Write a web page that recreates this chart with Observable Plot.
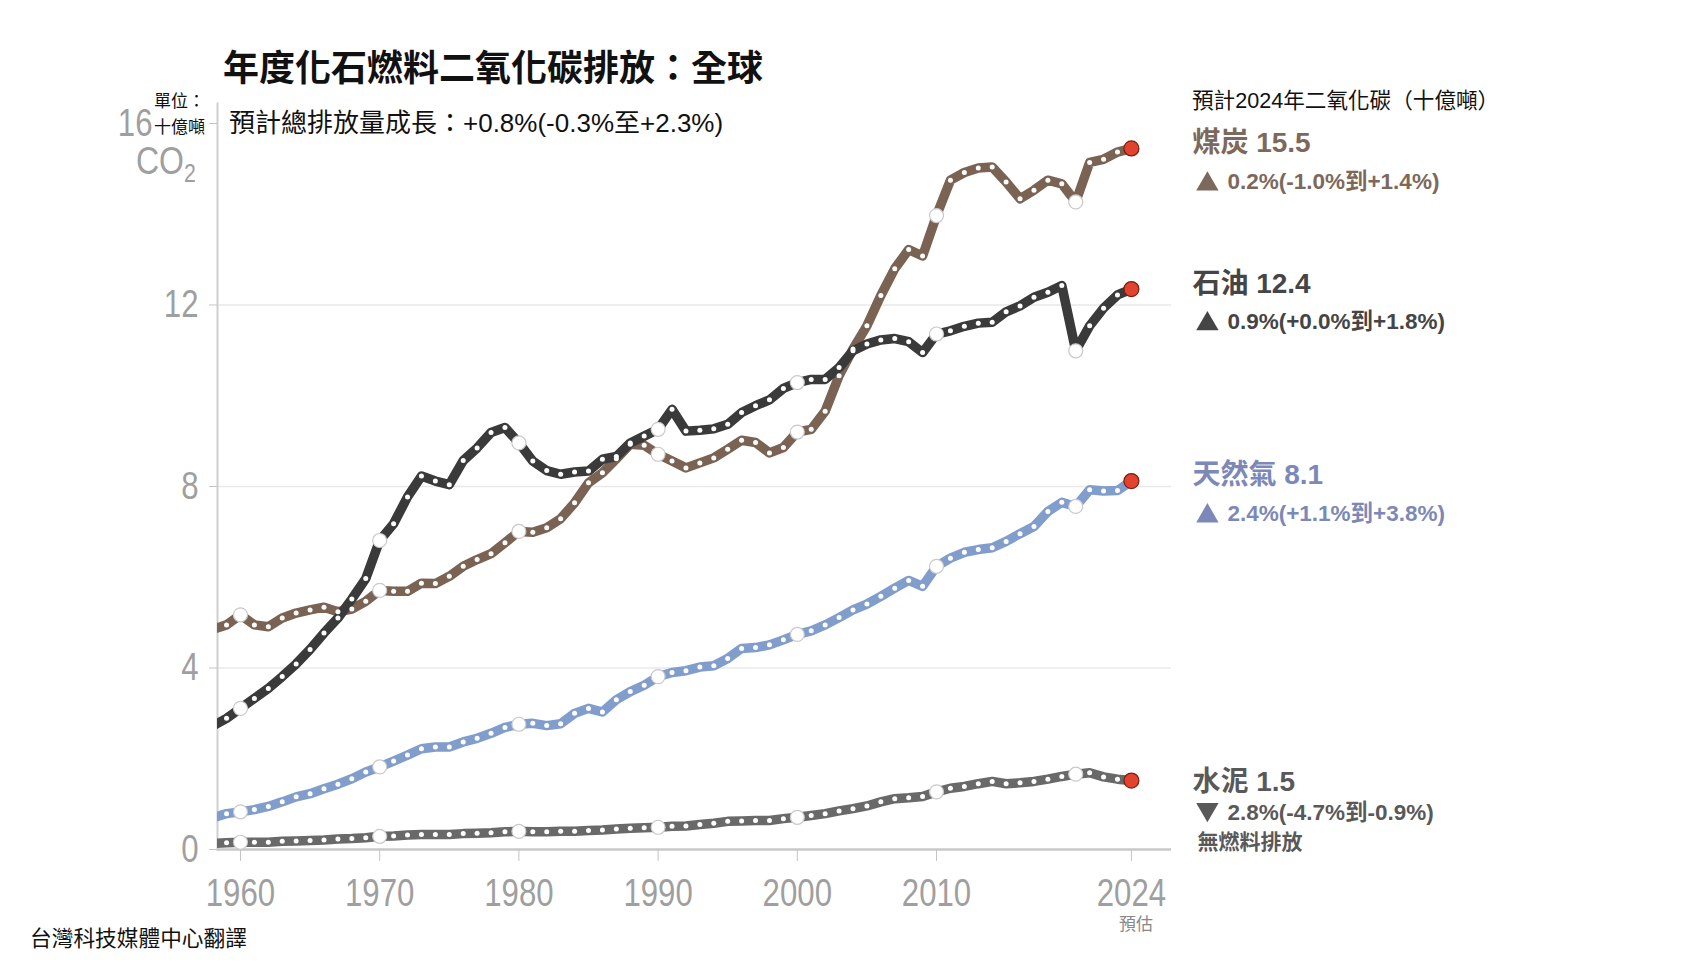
<!DOCTYPE html>
<html><head><meta charset="utf-8">
<script src="https://cdn.jsdelivr.net/npm/d3@7"></script>
<script src="https://cdn.jsdelivr.net/npm/@observablehq/plot@0.6"></script>
<style>
body{margin:0;background:#fff;}
#wrap{position:relative;width:1704px;height:962px;overflow:hidden;font-family:"Liberation Sans","Noto Sans CJK TC",sans-serif;color:#111;}
#wrap svg{position:absolute;left:0;top:0;}
.t{position:absolute;white-space:nowrap;line-height:1;transform:translateY(-50%);}
</style></head><body>
<div id="wrap">
  <div id="chart"></div>
  <div class="t" style="left:223px;top:69px;font-size:36px;font-weight:bold;">年度化石燃料二氧化碳排放：全球</div>
  <div class="t" style="left:229px;top:123px;font-size:26px;">預計總排放量成長：+0.8%(-0.3%至+2.3%)</div>
  <div class="t" style="left:154px;top:101px;font-size:17px;">單位：</div>
  <div class="t" style="left:154px;top:127px;font-size:17px;">十億噸</div>
  <div class="t" style="left:136px;top:163px;font-size:39px;color:#9f9f9f;transform:translateY(-50%) scaleX(0.82);transform-origin:left center;">CO<span style="font-size:26px;vertical-align:-8px;">2</span></div>
  <div class="t" style="left:1192px;top:101px;font-size:21.6px;">預計2024年二氧化碳（十億噸）</div>
  <div class="t" style="left:1119px;top:924px;font-size:17px;color:#888;">預估</div>
  <div class="t" style="left:30px;top:939px;font-size:21.7px;">台灣科技媒體中心翻譯</div>
</div>
<script>
const years = d3.range(1958, 2025);
const seriesNames = ["煤炭", "石油", "天然氣", "水泥"];
const coal = [4.85,4.95,5.17,4.95,4.91,5.10,5.21,5.28,5.34,5.24,5.30,5.47,5.71,5.69,5.69,5.87,5.86,6.02,6.24,6.39,6.52,6.76,7.01,6.99,7.09,7.29,7.64,8.08,8.30,8.61,8.93,8.91,8.71,8.56,8.41,8.52,8.63,8.82,9.02,8.97,8.74,8.86,9.20,9.26,9.66,10.44,11.03,11.54,12.21,12.80,13.22,13.08,13.97,14.75,14.92,15.02,15.04,14.71,14.34,14.53,14.75,14.67,14.27,15.14,15.21,15.37,15.45];
const oil = [2.72,2.89,3.11,3.33,3.55,3.81,4.09,4.41,4.77,5.10,5.52,5.97,6.81,7.18,7.77,8.23,8.12,8.04,8.57,8.85,9.19,9.30,8.96,8.56,8.35,8.27,8.32,8.34,8.60,8.66,8.96,9.11,9.26,9.70,9.22,9.24,9.27,9.37,9.63,9.78,9.91,10.16,10.29,10.36,10.36,10.62,10.99,11.14,11.23,11.26,11.19,10.95,11.36,11.43,11.53,11.60,11.62,11.85,11.98,12.17,12.28,12.43,10.99,11.54,11.93,12.22,12.35];
const gas = [0.70,0.79,0.83,0.88,0.95,1.05,1.16,1.23,1.34,1.44,1.56,1.71,1.82,1.95,2.08,2.22,2.26,2.26,2.37,2.45,2.56,2.69,2.76,2.78,2.73,2.77,3.00,3.11,3.03,3.30,3.48,3.62,3.81,3.90,3.94,4.02,4.05,4.21,4.43,4.45,4.51,4.62,4.74,4.82,4.95,5.11,5.28,5.41,5.58,5.76,5.93,5.80,6.24,6.42,6.55,6.61,6.65,6.79,6.96,7.12,7.45,7.65,7.56,7.93,7.90,7.91,8.12];
const cement = [0.13,0.15,0.16,0.16,0.16,0.18,0.19,0.20,0.21,0.23,0.24,0.26,0.29,0.30,0.32,0.33,0.33,0.33,0.35,0.36,0.37,0.39,0.40,0.39,0.39,0.40,0.40,0.42,0.43,0.45,0.47,0.48,0.49,0.51,0.52,0.55,0.58,0.62,0.63,0.64,0.64,0.68,0.71,0.75,0.79,0.85,0.90,0.96,1.05,1.12,1.14,1.17,1.27,1.35,1.39,1.45,1.50,1.45,1.47,1.50,1.55,1.61,1.66,1.69,1.60,1.55,1.52];
const forecast2024 = [15.5, 12.4, 8.1, 1.5];
const growthDir = ["up", "up", "up", "down"];
const growthText = ["0.2%(-1.0%到+1.4%)", "0.9%(+0.0%到+1.8%)", "2.4%(+1.1%到+3.8%)", "2.8%(-4.7%到-0.9%)"];
const cementNote = "無燃料排放";
const xTicks = [1960, 1970, 1980, 1990, 2000, 2010, 2024];
const yTicks = [0, 4, 8, 12, 16];
const decadeYears = [1960, 1970, 1980, 1990, 2000, 2010, 2020];
const forecastYear = 2024;

// styles / layout
const lineColors = ["#7b6354", "#3a3a3a", "#809dcb", "#696969"];
const labelColors = ["#7d695b", "#454545", "#7c88b7", "#595959"];
const nameDy = [-3, -3, -6.5, 0.5];
const subDy = [36, 35, 32, 31];
const tickFont = "'Liberation Sans',sans-serif";
const labelFont = "'Liberation Sans','Noto Sans CJK TC',sans-serif";

const seriesValues = [coal, oil, gas, cement];
const rows = [];
seriesNames.forEach((s, i) => years.forEach((yr, j) => rows.push({series: s, year: yr, value: seriesValues[i][j]})));
const visible = rows.filter(d => d.year >= 1959);
const smallDots = visible.filter(d => !decadeYears.includes(d.year) && d.year !== forecastYear);
const bigDots = visible.filter(d => decadeYears.includes(d.year));
const redDots = visible.filter(d => d.year === forecastYear);
const labels = seriesNames.map((s, i) => ({series: s, year: forecastYear, value: forecast2024[i], name: s + " " + forecast2024[i], dir: growthDir[i], growth: growthText[i]}));

const labelMarks = [];
labels.forEach((d, i) => {
  const down = d.dir === "down";
  labelMarks.push(Plot.text([d], {x: "year", y: "value", text: "name", dx: 61, dy: nameDy[i], textAnchor: "start", fill: labelColors[i], fontSize: 28, fontWeight: "bold", fontFamily: labelFont}));
  labelMarks.push(Plot.dot([d], {x: "year", y: "value", dx: 76, dy: subDy[i] + (down ? -3 : 2), symbol: "triangle", r: 8.3, rotate: down ? 180 : 0, fill: labelColors[i], stroke: "none"}));
  labelMarks.push(Plot.text([d], {x: "year", y: "value", text: "growth", dx: 96, dy: subDy[i], textAnchor: "start", fill: labelColors[i], fontSize: 22.5, fontWeight: "bold", fontFamily: labelFont}));
});
labelMarks.push(Plot.text([labels[3]], {x: "year", y: "value", text: () => cementNote, dx: 66, dy: 60.5, textAnchor: "start", fill: labelColors[3], fontSize: 21, fontWeight: "bold", fontFamily: "'Noto Sans CJK TC',sans-serif"}));

const axisStyle = {fontSize: 39, fontFamily: tickFont, stroke: "#c4c4c4", fill: "#9f9f9f", tickFormat: d => String(d), label: null};

const chart = Plot.plot({
  width: 1704,
  height: 962,
  marginLeft: 217,
  marginRight: 533,
  marginTop: 103,
  marginBottom: 113,
  x: {domain: [1958.35, 2026.88]},
  y: {domain: [0, 16.44]},
  color: {domain: seriesNames, range: lineColors},
  style: {background: "transparent", overflow: "visible"},
  marks: [
    Plot.gridY([4, 8, 12], {stroke: "#e9e9e9", strokeOpacity: 1, strokeWidth: 1.5}),
    Plot.frame({anchor: "left", stroke: "#cfcfcf", strokeWidth: 2}),
    Plot.ruleY([0], {stroke: "#c8c8c8", strokeWidth: 2.5}),
    Plot.axisY(yTicks.slice(0, 4), {...axisStyle, tickSize: 8, tickPadding: 11}),
    Plot.axisY(yTicks.slice(4), {...axisStyle, tickSize: 8, tickPadding: 57}),
    Plot.axisX(xTicks, {...axisStyle, tickSize: 12, tickPadding: 17}),
    Plot.line(rows, {x: "year", y: "value", z: "series", stroke: "series", strokeWidth: 9.5, strokeLinejoin: "round", clip: true}),
    Plot.dot(smallDots, {x: "year", y: "value", r: 2.5, fill: "white", stroke: "none"}),
    Plot.dot(bigDots, {x: "year", y: "value", r: 7, fill: "white", stroke: "#c9c9c9", strokeWidth: 1.2}),
    Plot.dot(redDots, {x: "year", y: "value", r: 7.5, fill: "#e2432e", stroke: "#7a1c12", strokeWidth: 1.2}),
    ...labelMarks
  ]
});
// condense the tick labels horizontally (the reference uses a narrow face)
chart.querySelectorAll('g[aria-label$="tick label"] text').forEach(t => {
  const tr = t.getAttribute("transform") || "";
  t.setAttribute("transform", tr + " scale(0.8,1)");
});
document.getElementById("chart").appendChild(chart);
</script>
</body></html>
